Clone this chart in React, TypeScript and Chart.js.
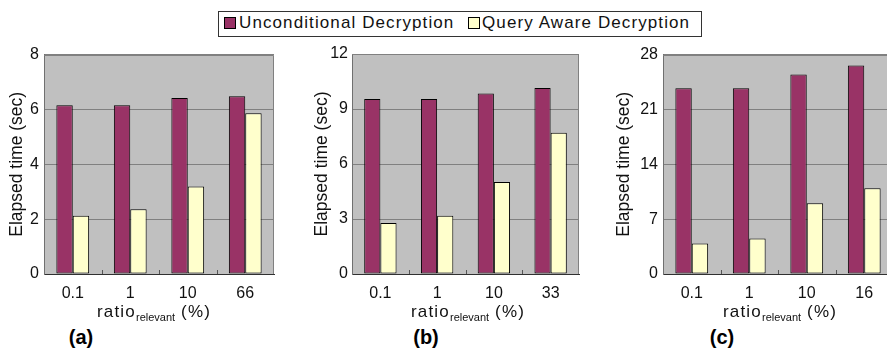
import React, { useEffect, useRef } from "react";
import { Chart, registerables } from "chart.js";

Chart.register(...registerables);

const seriesNames = ["Unconditional Decryption", "Query Aware Decryption"];
const seriesColors = ["#993366", "#FFFFCC"];

const categoriesA = ["0.1", "1", "10", "66"];
const unconditionalA = [6.15, 6.15, 6.42, 6.48];
const queryAwareA = [2.12, 2.36, 3.19, 5.86];

const categoriesB = ["0.1", "1", "10", "33"];
const unconditionalB = [9.55, 9.55, 9.85, 10.15];
const queryAwareB = [2.78, 3.18, 5.02, 7.71];

const categoriesC = ["0.1", "1", "10", "16"];
const unconditionalC = [23.7, 23.7, 25.45, 26.6];
const queryAwareC = [3.9, 4.53, 9.04, 10.95];

const yMaxes = [8, 12, 28];
const ySteps = [2, 3, 7];
const panelLabels = ["(a)", "(b)", "(c)"];
const yTitle = "Elapsed time (sec)";

const FONT = "'Liberation Sans', Arial, sans-serif";

const plotDecor = {
  id: "plotDecor",
  beforeDraw(chart: any) {
    const { ctx, chartArea: a } = chart;
    ctx.save();
    ctx.fillStyle = "#C0C0C0";
    ctx.fillRect(a.left, a.top, a.right - a.left, a.bottom - a.top);
    ctx.restore();
  },
  beforeDatasetsDraw(chart: any) {
    const { ctx, chartArea: a } = chart;
    ctx.save();
    ctx.strokeStyle = "#808080";
    ctx.lineWidth = 1;
    ctx.beginPath();
    ctx.moveTo(a.left, Math.round(a.top) + 0.5);
    ctx.lineTo(Math.round(a.right) - 0.5, Math.round(a.top) + 0.5);
    ctx.lineTo(Math.round(a.right) - 0.5, a.bottom);
    ctx.stroke();
    const xs = chart.scales.x;
    const n = xs.ticks.length;
    ctx.strokeStyle = "#555";
    ctx.beginPath();
    for (let i = 1; i < n; i++) {
      const x = Math.round((xs.getPixelForValue(i - 1) + xs.getPixelForValue(i)) / 2) + 0.5;
      ctx.moveTo(x, a.bottom - 4);
      ctx.lineTo(x, a.bottom);
    }
    ctx.stroke();
    ctx.restore();
  },
};

type PanelProps = {
  categories: string[];
  unconditional: number[];
  queryAware: number[];
  yMax: number;
  yStep: number;
  left: number;
  width: number;
  yAxisWidth: number;
  titlePad: number;
  tickPad: number;
  padRight: number;
};

function Panel(p: PanelProps) {
  const ref = useRef<HTMLCanvasElement | null>(null);
  useEffect(() => {
    if (!ref.current) return;
    const chart = new Chart(ref.current, {
      type: "bar",
      data: {
        labels: p.categories,
        datasets: [
          {
            label: seriesNames[0],
            data: p.unconditional,
            backgroundColor: seriesColors[0],
            borderColor: "#000",
            borderWidth: 1,
            borderSkipped: false,
          },
          {
            label: seriesNames[1],
            data: p.queryAware,
            backgroundColor: seriesColors[1],
            borderColor: "#000",
            borderWidth: 1,
            borderSkipped: false,
          },
        ],
      },
      options: {
        animation: false,
        responsive: false,
        maintainAspectRatio: false,
        devicePixelRatio: 1,
        layout: { padding: { top: 14, right: p.padRight, bottom: 0, left: 0 } },
        datasets: { bar: { categoryPercentage: 0.57, barPercentage: 1 } },
        plugins: { legend: { display: false }, tooltip: { enabled: false } },
        scales: {
          x: {
            grid: { display: false, drawTicks: false },
            border: { display: true, color: "#303030", width: 1 },
            ticks: { font: { family: FONT, size: 16 }, color: "#111", padding: 10, maxRotation: 0 },
            afterFit: (s: any) => {
              s.height = 36;
            },
          },
          y: {
            min: 0,
            max: p.yMax,
            grid: { color: "#808080", lineWidth: 1, drawTicks: false },
            border: { display: true, color: "#707070", width: 1 },
            ticks: { stepSize: p.yStep, font: { family: FONT, size: 16 }, color: "#111", padding: p.tickPad },
            title: {
              display: true,
              text: yTitle,
              font: { family: FONT, size: 17.5 },
              color: "#111",
              padding: { top: p.titlePad, bottom: 0 },
            },
            afterFit: (s: any) => {
              s.width = p.yAxisWidth;
            },
          },
        },
      },
      plugins: [plotDecor],
    } as any);
    return () => chart.destroy();
  }, []);
  return (
    <canvas
      ref={ref}
      width={p.width}
      height={270}
      style={{ position: "absolute", left: p.left, top: 40, width: p.width, height: 270 }}
    />
  );
}

function XTitle({ cx }: { cx: number }) {
  return (
    <div
      style={{
        position: "absolute",
        left: cx,
        top: 302,
        transform: "translateX(-50%)",
        whiteSpace: "nowrap",
        fontFamily: FONT,
        fontSize: 17,
        letterSpacing: "1.2px",
        color: "#111",
        lineHeight: "20px",
      }}
    >
      ratio
      <span style={{ fontSize: 11, letterSpacing: "0px", position: "relative", top: 4 }}>relevant</span>
      {" (%)"}
    </div>
  );
}

function PanelLabel({ cx, text }: { cx: number; text: string }) {
  return (
    <div
      style={{
        position: "absolute",
        left: cx,
        top: 326,
        transform: "translateX(-50%)",
        fontFamily: FONT,
        fontWeight: "bold",
        fontSize: 20,
        lineHeight: "22px",
        color: "#000",
      }}
    >
      {text}
    </div>
  );
}

function Legend() {
  const textStyle: React.CSSProperties = {
    position: "absolute",
    top: 13,
    fontFamily: FONT,
    fontSize: 17,
    letterSpacing: "1.1px",
    lineHeight: "20px",
    color: "#111",
    whiteSpace: "nowrap",
  };
  const sq = (left: number, color: string): React.CSSProperties => ({
    position: "absolute",
    left,
    top: 17,
    width: 10,
    height: 10,
    background: color,
    border: "1px solid #000",
  });
  return (
    <>
      <div
        style={{
          position: "absolute",
          left: 218,
          top: 11,
          width: 482,
          height: 24,
          border: "1px solid #333",
          background: "#fff",
        }}
      />
      <div style={sq(224, seriesColors[0])} />
      <div style={{ ...textStyle, left: 239 }}>{seriesNames[0]}</div>
      <div style={sq(468, seriesColors[1])} />
      <div style={{ ...textStyle, left: 482 }}>{seriesNames[1]}</div>
    </>
  );
}

export default function App() {
  return (
    <div
      style={{
        position: "fixed",
        left: 0,
        top: 0,
        width: 887,
        height: 349,
        overflow: "hidden",
        background: "#fff",
      }}
    >
      <Legend />
      <Panel
        categories={categoriesA}
        unconditional={unconditionalA}
        queryAware={queryAwareA}
        yMax={yMaxes[0]}
        yStep={ySteps[0]}
        left={0}
        width={290}
        yAxisWidth={44}
        titlePad={7}
        tickPad={5}
        padRight={16}
      />
      <Panel
        categories={categoriesB}
        unconditional={unconditionalB}
        queryAware={queryAwareB}
        yMax={yMaxes[1]}
        yStep={ySteps[1]}
        left={295}
        width={300}
        yAxisWidth={57}
        titlePad={17}
        tickPad={4}
        padRight={16}
      />
      <Panel
        categories={categoriesC}
        unconditional={unconditionalC}
        queryAware={queryAwareC}
        yMax={yMaxes[2]}
        yStep={ySteps[2]}
        left={590}
        width={313}
        yAxisWidth={73}
        titlePad={24}
        tickPad={5}
        padRight={10}
      />
      <XTitle cx={154} />
      <XTitle cx={468} />
      <XTitle cx={780} />
      <PanelLabel cx={81} text={panelLabels[0]} />
      <PanelLabel cx={426} text={panelLabels[1]} />
      <PanelLabel cx={722} text={panelLabels[2]} />
    </div>
  );
}
